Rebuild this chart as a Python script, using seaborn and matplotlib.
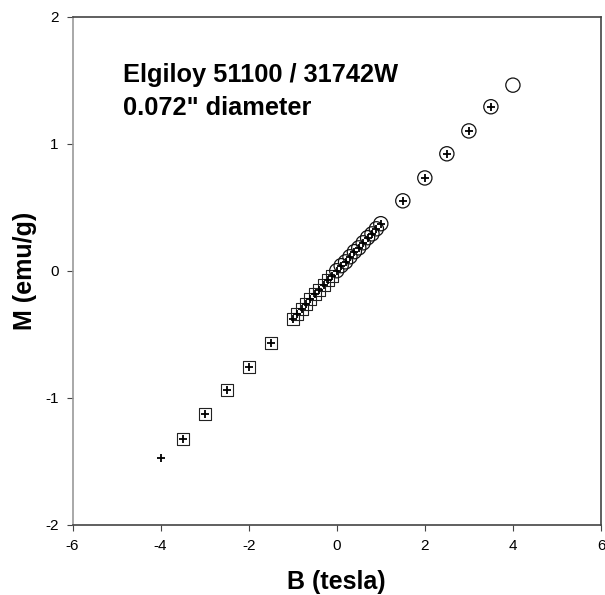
import numpy as np
import pandas as pd
import matplotlib
matplotlib.use("Agg")
import matplotlib.pyplot as plt
import seaborn as sns

# =========================
# DATA
# =========================
# open circles
circle_B = [0.0, 0.1, 0.2, 0.3, 0.4, 0.5, 0.6, 0.7, 0.8, 0.9, 1.0,
            1.5, 2.0, 2.5, 3.0, 3.5, 4.0]
circle_M = [0.00, 0.04, 0.07, 0.11, 0.15, 0.18, 0.22, 0.26, 0.29, 0.33, 0.37,
            0.55, 0.73, 0.92, 1.10, 1.29, 1.46]

# open squares
square_B = [-3.5, -3.0, -2.5, -2.0, -1.5,
            -1.0, -0.9, -0.8, -0.7, -0.6, -0.5, -0.4, -0.3, -0.2, -0.1]
square_M = [-1.32, -1.13, -0.94, -0.76, -0.57,
            -0.38, -0.34, -0.30, -0.26, -0.22, -0.18, -0.15, -0.11, -0.07, -0.04]

# crosses
plus_B = [-4.0, -3.5, -3.0, -2.5, -2.0, -1.5,
          -1.0, -0.9, -0.8, -0.7, -0.6, -0.5, -0.4, -0.3, -0.2, -0.1,
          0.0, 0.1, 0.2, 0.3, 0.4, 0.5, 0.6, 0.7, 0.8, 0.9, 1.0,
          1.5, 2.0, 2.5, 3.0, 3.5]
plus_M = [-1.47, -1.32, -1.13, -0.94, -0.76, -0.57,
          -0.38, -0.34, -0.30, -0.26, -0.22, -0.18, -0.15, -0.11, -0.07, -0.04,
          0.00, 0.04, 0.07, 0.11, 0.15, 0.18, 0.22, 0.26, 0.29, 0.33, 0.37,
          0.55, 0.73, 0.92, 1.10, 1.29]

x_ticks = [-6, -4, -2, 0, 2, 4, 6]
y_ticks = [-2, -1, 0, 1, 2]

circles = pd.DataFrame({"B": circle_B, "M": circle_M})
squares = pd.DataFrame({"B": square_B, "M": square_M})
crosses = pd.DataFrame({"B": plus_B, "M": plus_M})

# =========================
# PLOT
# =========================
sns.set_style("white")
plt.rcParams["font.family"] = ["Liberation Sans", "DejaVu Sans"]
plt.rcParams["axes.unicode_minus"] = False
plt.rcParams["text.color"] = "black"
plt.rcParams["axes.labelcolor"] = "black"
plt.rcParams["xtick.color"] = "black"
plt.rcParams["ytick.color"] = "black"

fig = plt.figure(figsize=(6.05, 5.95), dpi=100)
ax = fig.add_axes([72.5 / 605, 1 - 525 / 595, 528.5 / 605, 508.5 / 595])

sns.scatterplot(data=squares, x="B", y="M", marker="s", s=75,
                facecolor="none", edgecolor="#222222", linewidth=0.8, ax=ax)
sns.scatterplot(data=circles, x="B", y="M", marker="o", s=105,
                facecolor="none", edgecolor="#111111", linewidth=0.9, ax=ax)
sns.scatterplot(data=crosses, x="B", y="M", marker="+", s=30,
                color="black", linewidth=1.3, ax=ax)

ax.set_xlim(-6, 6)
ax.set_ylim(-2, 2)
ax.set_xticks(x_ticks)
ax.set_yticks(y_ticks)
ax.tick_params(axis="both", direction="out", length=4, width=0.8,
               labelsize=11, bottom=True, left=True, pad=6,
               color="#444444", labelcolor="black")

for side, col in [("top", "#444444"), ("right", "#444444"),
                  ("bottom", "#444444"), ("left", "#999999")]:
    ax.spines[side].set_color(col)
    ax.spines[side].set_linewidth(1.2)

ax.set_xlabel("B (tesla)", fontsize=18, fontweight="bold", labelpad=12)
ax.set_ylabel("M (emu/g)", fontsize=18, fontweight="bold", labelpad=6)

ax.text(0.095, 0.885, "Elgiloy 51100 / 31742W", transform=ax.transAxes,
        fontsize=18.3, fontweight="bold", va="center", ha="left")
ax.text(0.095, 0.82, '0.072" diameter', transform=ax.transAxes,
        fontsize=18.3, fontweight="bold", va="center", ha="left")

fig.savefig("out.png", dpi=100)
